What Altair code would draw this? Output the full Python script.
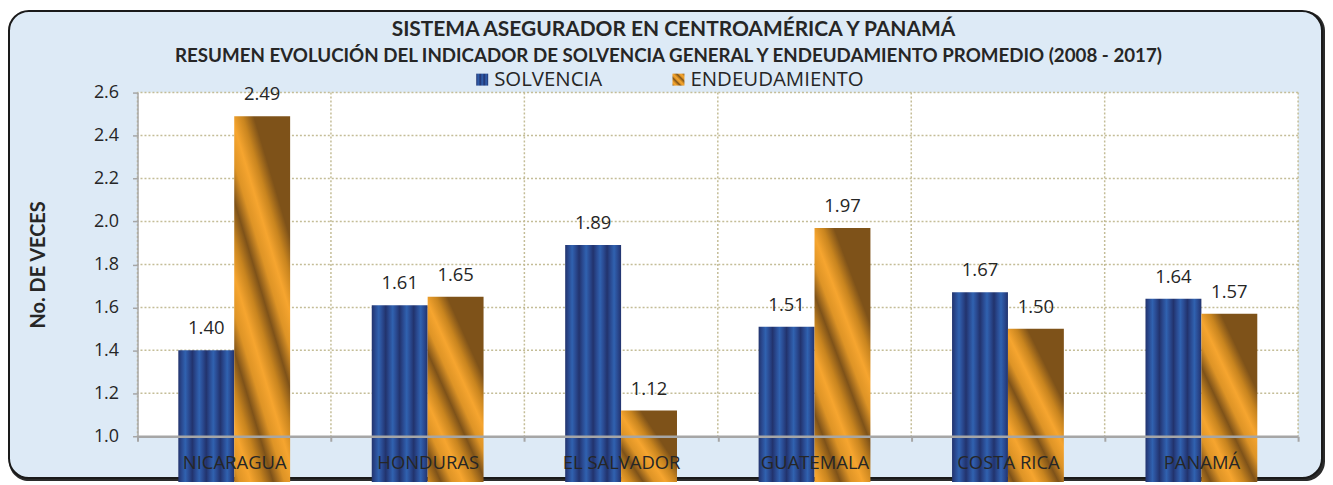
import altair as alt
import pandas as pd

# ---------------- data ----------------
categories = ["NICARAGUA", "HONDURAS", "EL SALVADOR", "GUATEMALA", "COSTA RICA", "PANAMÁ"]
series_names = ["SOLVENCIA", "ENDEUDAMIENTO"]
solvencia = [1.40, 1.61, 1.89, 1.51, 1.67, 1.64]
endeudamiento = [2.49, 1.65, 1.12, 1.97, 1.50, 1.57]
y_ticks = [1.0, 1.2, 1.4, 1.6, 1.8, 2.0, 2.2, 2.4, 2.6]

title_1 = "SISTEMA  ASEGURADOR  EN CENTROAMÉRICA  Y PANAMÁ"
title_2 = "RESUMEN EVOLUCIÓN DEL INDICADOR DE SOLVENCIA GENERAL Y ENDEUDAMIENTO PROMEDIO (2008 - 2017)"
y_title = "No. DE VECES"

df = pd.DataFrame({
    "pais": categories * 2,
    "serie": [series_names[0]] * len(categories) + [series_names[1]] * len(categories),
    "valor": solvencia + endeudamiento,
})
grid_df = pd.DataFrame({"valor": y_ticks[1:]})
cat_df = pd.DataFrame({"pais": categories})
one = pd.DataFrame({"k": [0]})

# ---------------- styling ----------------
W, H = 1165, 345
LABEL_FONT = "Open Sans"
TITLE_FONT = "Lato"
TXT = "#262626"
GRID = "#C4BD97"
AXIS = "#A6A6A6"
BG = "#DDEAF6"


def stripes(colors, cycles, x1, y1, x2, y2):
    seq = []
    for _ in range(cycles):
        seq += colors
    seq.append(colors[0])
    n = len(seq) - 1
    stops = [alt.GradientStop(color=c, offset=i / n) for i, c in enumerate(seq)]
    return alt.LinearGradient(gradient="linear", stops=stops, x1=x1, y1=y1, x2=x2, y2=y2)


BLUE_CYCLE = ["#22336D", "#2A4A91", "#3062B0", "#2A4A91"]
ORANGE_CYCLE = ["#7E5219", "#C9851F", "#F6A52F", "#DE9426"]

blue_grad = stripes(BLUE_CYCLE, 4, 0, 0, 1, 0)
orange_grad = stripes(ORANGE_CYCLE, 4, 0.35, 0, 0, 1)
blue_leg = stripes(BLUE_CYCLE, 3, 0, 0, 1, 0)
orange_leg = stripes(ORANGE_CYCLE, 3, 1, 0, 0, 1)

xscale = alt.Scale(domain=categories, paddingInner=0, paddingOuter=0)
yscale = alt.Scale(domain=[1.0, 2.6], nice=False, zero=False)
offscale = alt.Scale(domain=series_names, paddingInner=0, paddingOuter=0.73)

x_axis = alt.Axis(
    title=None, tickBand="extent", labelAngle=0, labelFont=LABEL_FONT, labelFontSize=18.5,
    labelColor=TXT, labelPadding=12, tickSize=5, tickColor=AXIS, tickWidth=2,
    domainColor=AXIS, domainWidth=2.5, grid=False, zindex=1,
)
y_axis = alt.Axis(
    title=y_title, values=y_ticks, format=".1f", labelFont=LABEL_FONT, labelFontSize=18,
    labelColor=TXT, labelPadding=14, tickSize=5, tickColor=AXIS, tickWidth=1.5,
    domainColor=AXIS, domainWidth=1.5, grid=False, zindex=1,
    titleFont=TITLE_FONT, titleFontSize=20, titleFontWeight="bold", titleColor=TXT,
    titleAngle=270, titleX=-99, titleY=H / 2, titleAlign="center", titleBaseline="middle",
)

x_enc = alt.X("pais:N", sort=categories, scale=xscale, axis=x_axis)
y_enc = alt.Y("valor:Q", scale=yscale, axis=y_axis)

# ---------------- decorations ----------------
shadow = alt.Chart(one).mark_rect(fill="#2b2b2b", cornerRadius=20).encode(
    x=alt.value(-129), x2=alt.value(1192), y=alt.value(-82), y2=alt.value(390))
box = alt.Chart(one).mark_rect(fill=BG, stroke="#1a1a1a", strokeWidth=2, cornerRadius=20).encode(
    x=alt.value(-129), x2=alt.value(1189), y=alt.value(-82), y2=alt.value(387))
plot_bg = alt.Chart(one).mark_rect(fill="white").encode(
    x=alt.value(0), x2=alt.value(W), y=alt.value(0), y2=alt.value(H))

hgrid = alt.Chart(grid_df).mark_rule(color=GRID, strokeWidth=1.5, strokeDash=[2, 2]).encode(y=y_enc)
vgrid = alt.Chart(cat_df).mark_rule(color=GRID, strokeWidth=1.5, strokeDash=[2, 2]).encode(
    x=alt.X("pais:N", sort=categories, scale=xscale, axis=x_axis, bandPosition=0),
    y=alt.value(0), y2=alt.value(H))
vgrid_end = alt.Chart(one).mark_rule(color=GRID, strokeWidth=1.5, strokeDash=[2, 2]).encode(
    x=alt.value(W), y=alt.value(0), y2=alt.value(H))

# ---------------- bars ----------------
base = alt.Chart(df).encode(
    x=x_enc,
    xOffset=alt.XOffset("serie:N", scale=offscale, sort=series_names),
    y=y_enc,
)
bars_s = base.transform_filter(alt.datum.serie == series_names[0]).mark_bar(fill=blue_grad)
bars_e = base.transform_filter(alt.datum.serie == series_names[1]).mark_bar(fill=orange_grad)
labels = base.mark_text(font=LABEL_FONT, fontSize=18.5, color=TXT, dy=-22, baseline="middle").encode(
    text=alt.Text("valor:Q", format=".2f"))

# ---------------- legend ----------------
leg_s_box = alt.Chart(one).mark_rect(fill=blue_leg).encode(
    x=alt.value(340), x2=alt.value(352), y=alt.value(-19), y2=alt.value(-7))
leg_s_txt = alt.Chart(one).mark_text(text=series_names[0], font=LABEL_FONT, fontSize=20.5, color=TXT,
                                     align="left", baseline="middle").encode(x=alt.value(358), y=alt.value(-13))
leg_e_box = alt.Chart(one).mark_rect(fill=orange_leg).encode(
    x=alt.value(537), x2=alt.value(549), y=alt.value(-19), y2=alt.value(-7))
leg_e_txt = alt.Chart(one).mark_text(text=series_names[1], font=LABEL_FONT, fontSize=20.5, color=TXT,
                                     align="left", baseline="middle").encode(x=alt.value(555), y=alt.value(-13))

# ---------------- titles ----------------
t1 = alt.Chart(one).mark_text(text=title_1, font=TITLE_FONT, fontSize=21, fontWeight="bold", color=TXT,
                              baseline="middle").encode(x=alt.value(538), y=alt.value(-63))
t2 = alt.Chart(one).mark_text(text=title_2, font=TITLE_FONT, fontSize=18.8, fontWeight="bold", color=TXT,
                              baseline="middle").encode(x=alt.value(533), y=alt.value(-37))

chart = alt.layer(
    shadow, box, plot_bg, hgrid, vgrid, vgrid_end, bars_s, bars_e, labels,
    leg_s_box, leg_s_txt, leg_e_box, leg_e_txt, t1, t2,
).properties(
    width=W, height=H,
    autosize=alt.AutoSizeParams(type="none"),
    padding={"left": 130, "top": 84, "right": 27, "bottom": 45},
    background="white",
).configure_view(stroke=None)

chart.save("out.html", embed_options={"renderer": "svg", "actions": False})
